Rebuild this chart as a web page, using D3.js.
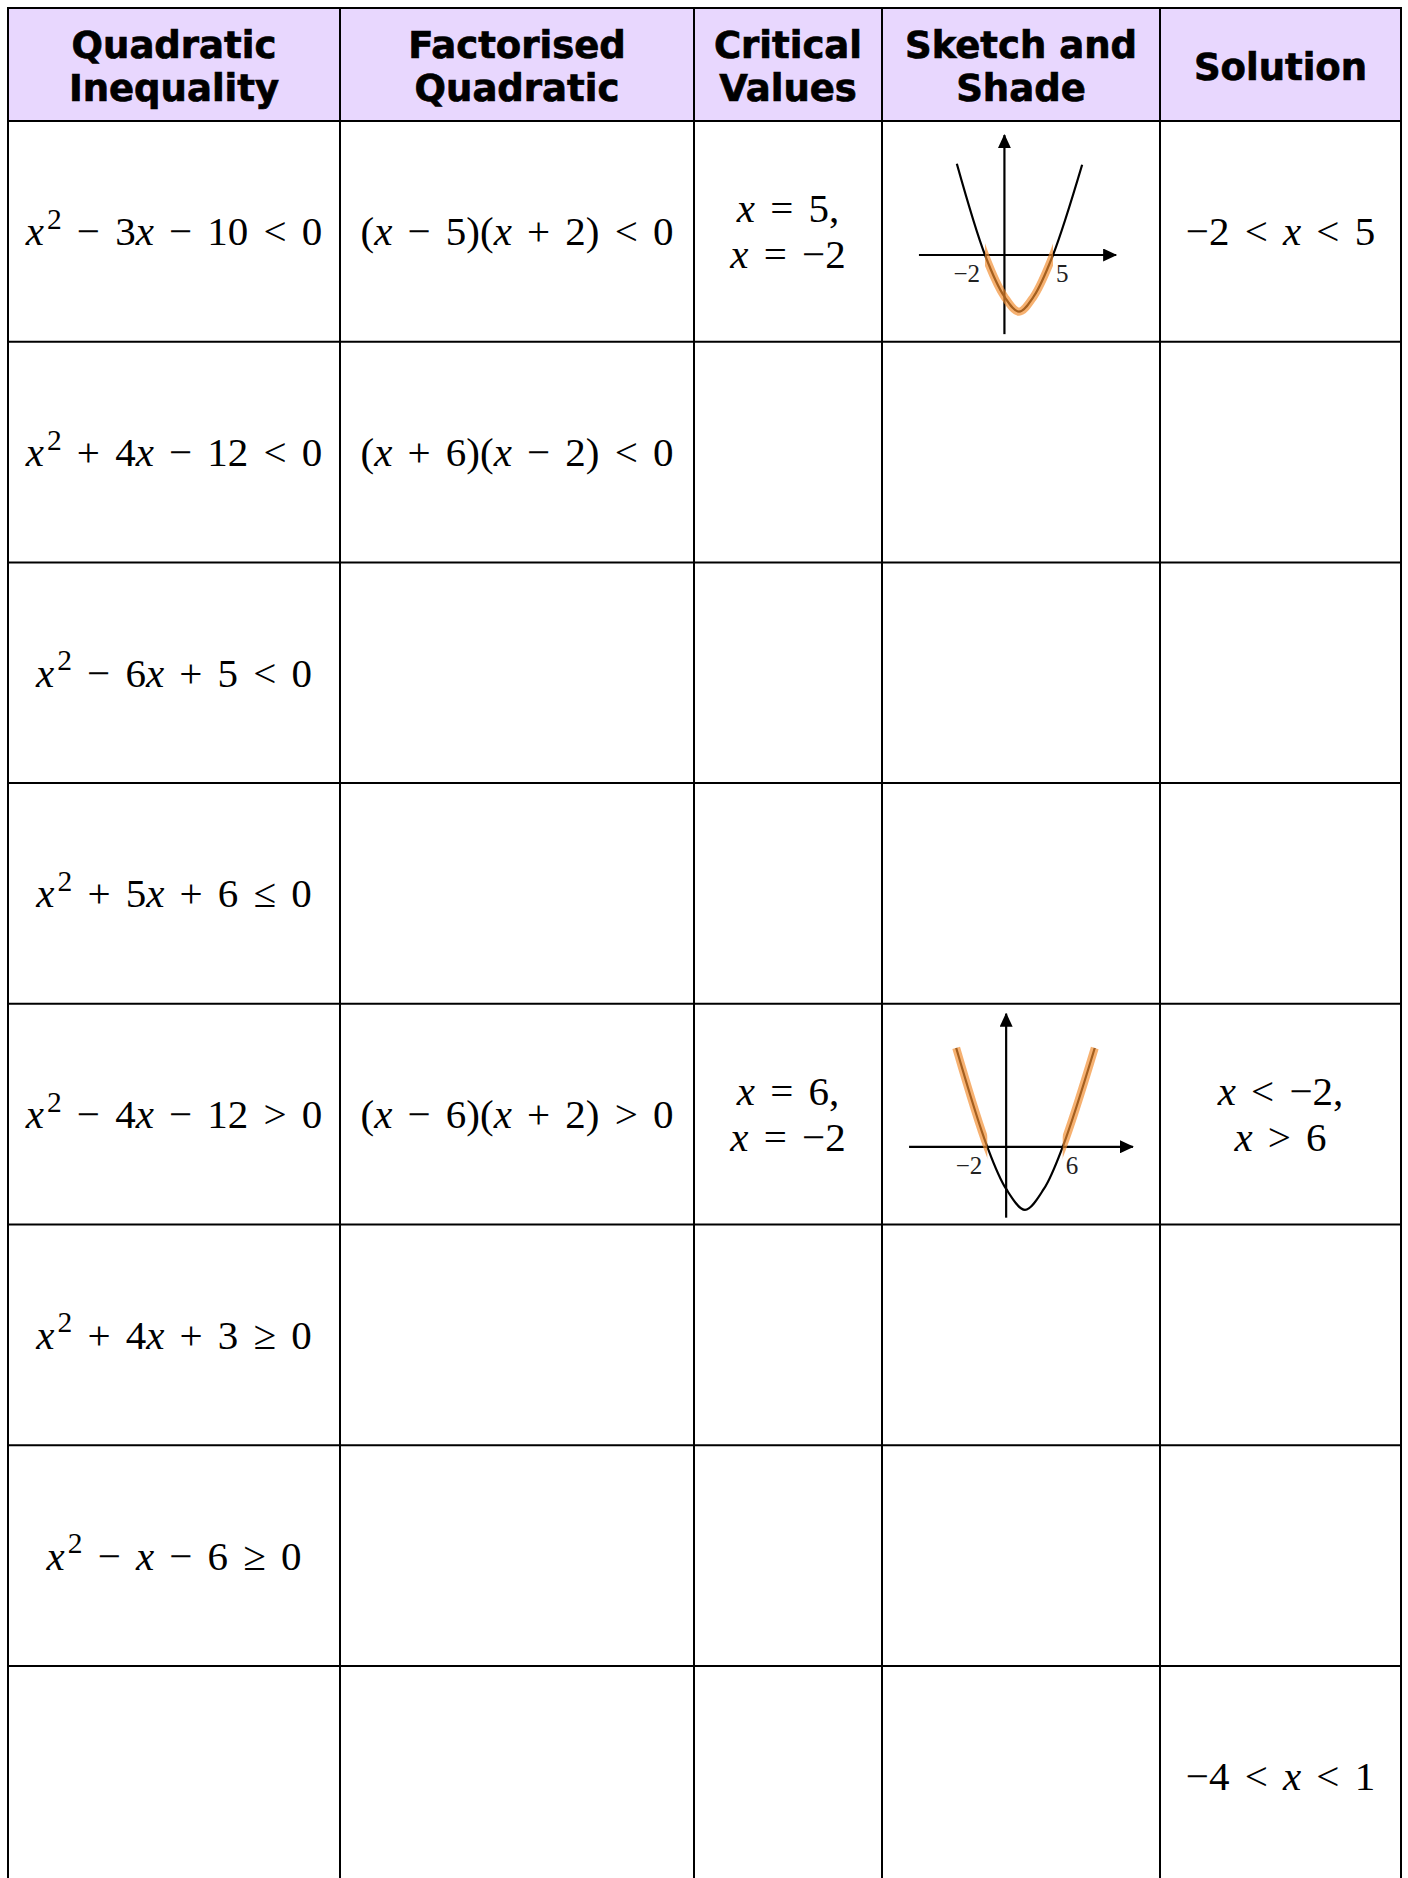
<!DOCTYPE html>
<html>
<head>
<meta charset="utf-8">
<script src="https://cdn.jsdelivr.net/npm/d3@7"></script>
<style>
  body { margin: 0; background: #fff; }
</style>
</head>
<body>
<div id="chart"></div>
<script>
// table content
const headers = [["Quadratic", "Inequality"], ["Factorised", "Quadratic"], ["Critical", "Values"], ["Sketch and", "Shade"], ["Solution"]];
const inequalities = ["x^2 − 3x − 10 < 0", "x^2 + 4x − 12 < 0", "x^2 − 6x + 5 < 0", "x^2 + 5x + 6 ≤ 0", "x^2 − 4x − 12 > 0", "x^2 + 4x + 3 ≥ 0", "x^2 − x − 6 ≥ 0", ""];
const factorised = ["(x − 5)(x + 2) < 0", "(x + 6)(x − 2) < 0", "", "", "(x − 6)(x + 2) > 0", "", "", ""];
const criticalValues = [["x = 5,", "x = −2"], [], [], [], ["x = 6,", "x = −2"], [], [], []];
const solutions = [["−2 < x < 5"], [], [], [], ["x < −2,", "x > 6"], [], [], ["−4 < x < 1"]];

// sketches (data units)
const sketchRows = [0, 4];
const sketchRoots = [[-2, 5], [-2, 6]];
const sketchVertexY = [-12.25, -16];
const sketchCurves = [
    [[-4.9, 19.7], [-2, 0], [0, -9], [1.5, -12.25], [3, -9], [5, 0], [8, 19.5]],
    [[-5.3, 25.1], [-2, 0], [0, -10.7], [2, -16], [4, -10.7], [6, 0], [9.4, 25.1]]
];
const sketchShade = [[[-2, 5]], [[-6, -2], [6, 10]]];
const sketchXAxis = [[-8.8, 11.5], [-10.3, 13.45]];
const sketchYAxis = [[-17.1, 25.9], [-18, 33.8]];
const sketchLabels = [["−2", "5"], ["−2", "6"]];

// layout
const width = 1408, height = 1878;
const colEdges = [8, 340, 694, 882, 1160, 1401];
const headerTop = 8, headerBottom = 121, rowHeight = 220.7, nRows = 8;
const sketchXRange = [[103, 171], [105.3, 180.7]];
const sketchYRange = [[134, 190.7], [143, 206]];

const mathFont = "'Liberation Serif', 'Times New Roman', serif";
const headFont = "Verdana, 'DejaVu Sans', sans-serif";
const fs = 41;
const gap = 0.37;

const rowScale = d3.scaleLinear().domain([0, nRows]).range([headerBottom, headerBottom + nRows * rowHeight]);
const colCenter = i => (colEdges[i] + colEdges[i + 1]) / 2;

const svg = d3.select("#chart").append("svg").attr("width", width).attr("height", height);

svg.append("rect")
    .attr("x", colEdges[0]).attr("y", headerTop)
    .attr("width", colEdges[5] - colEdges[0]).attr("height", headerBottom - headerTop)
    .attr("fill", "#e8d7fe");

// header text
headers.forEach((lines, i) => {
    const t = svg.append("text")
        .attr("text-anchor", "middle")
        .style("font-family", headFont)
        .style("font-weight", "bold")
        .style("font-size", "37px")
        .style("fill", "#000")
        .style("stroke", "#000")
        .style("stroke-width", 0.7);
    const base = lines.length == 1 ? [80] : [58, 101];
    lines.forEach((l, j) => t.append("tspan").attr("x", colCenter(i)).attr("y", base[j]).text(l));
});

function mathText(g, str, x, y) {
    const t = g.append("text")
        .attr("x", x).attr("y", y)
        .attr("text-anchor", "middle")
        .style("font-family", mathFont)
        .style("font-size", fs + "px")
        .style("fill", "#000");
    let raised = false;
    str.split(" ").forEach((tok, ti) => {
        const parts = tok.match(/\^\d|x|[^x^]+/g) || [];
        parts.forEach((p, pi) => {
            const s = t.append("tspan");
            if (pi == 0 && ti > 0) s.attr("dx", gap * fs);
            if (p[0] == "^") {
                s.text(p.slice(1)).style("font-size", fs * 0.72 + "px")
                    .attr("dx", 3).attr("dy", -0.4 * fs);
                raised = true;
            } else {
                if (raised) { s.attr("dy", 0.4 * fs); raised = false; }
                s.text(p);
                if (p == "x") s.style("font-style", "italic");
            }
        });
    });
}

function cellLines(col, row, lines) {
    const cy = (rowScale(row) + rowScale(row + 1)) / 2;
    const step = 46;
    lines.forEach((l, i) => {
        if (l) mathText(svg, l, colCenter(col), cy + 14 + (i - (lines.length - 1) / 2) * step);
    });
}

d3.range(nRows).forEach(r => {
    cellLines(0, r, [inequalities[r]]);
    cellLines(1, r, [factorised[r]]);
    cellLines(2, r, criticalValues[r]);
    cellLines(4, r, solutions[r]);
});

// arrowhead
svg.append("defs").append("marker")
    .attr("id", "arrow")
    .attr("markerUnits", "userSpaceOnUse")
    .attr("viewBox", "0 0 14 13")
    .attr("markerWidth", 14).attr("markerHeight", 13)
    .attr("refX", 13).attr("refY", 6.5)
    .attr("orient", "auto")
    .append("path").attr("d", "M0,0L14,6.5L0,13Z").attr("fill", "#000");

// sketches
sketchRows.forEach((row, k) => {
    const g = svg.append("g").attr("transform", `translate(${colEdges[3]},${rowScale(row)})`);
    const x = d3.scaleLinear().domain(sketchRoots[k]).range(sketchXRange[k]);
    const y = d3.scaleLinear().domain([0, sketchVertexY[k]]).range(sketchYRange[k]);

    g.append("line")
        .attr("x1", x(sketchXAxis[k][0])).attr("x2", x(sketchXAxis[k][1]))
        .attr("y1", y(0)).attr("y2", y(0))
        .attr("stroke", "#000").attr("stroke-width", 2.2)
        .attr("marker-end", "url(#arrow)");
    g.append("line")
        .attr("x1", x(0)).attr("x2", x(0))
        .attr("y1", y(sketchYAxis[k][0])).attr("y2", y(sketchYAxis[k][1]))
        .attr("stroke", "#000").attr("stroke-width", 2.2)
        .attr("marker-end", "url(#arrow)");

    const line = d3.line().x(d => x(d[0])).y(d => y(d[1])).curve(d3.curveCatmullRom.alpha(0.5));
    const pathD = line(sketchCurves[k]);

    g.append("path").attr("d", pathD)
        .attr("fill", "none").attr("stroke", "#000").attr("stroke-width", 2.2);

    const clipId = "shade" + k;
    const clip = g.append("clipPath").attr("id", clipId);
    sketchShade[k].forEach(s => {
        clip.append("rect")
            .attr("x", x(s[0])).attr("y", 0)
            .attr("width", x(s[1]) - x(s[0])).attr("height", rowHeight);
    });
    g.append("path").attr("d", pathD)
        .attr("clip-path", `url(#${clipId})`)
        .attr("fill", "none")
        .attr("stroke", "rgb(242,140,45)").attr("stroke-opacity", 0.68)
        .attr("stroke-width", 8);

    const labs = sketchLabels[k];
    g.append("text")
        .attr("x", x(sketchRoots[k][0]) - 5).attr("y", y(0) + 27)
        .attr("text-anchor", "end")
        .style("font-family", mathFont).style("font-size", "25px").style("fill", "#222")
        .text(labs[0]);
    g.append("text")
        .attr("x", x(sketchRoots[k][1]) + 3).attr("y", y(0) + 27)
        .attr("text-anchor", "start")
        .style("font-family", mathFont).style("font-size", "25px").style("fill", "#222")
        .text(labs[1]);
});

// grid
const grid = svg.append("g").attr("stroke", "#000").attr("stroke-width", 2);
colEdges.forEach(cx => {
    grid.append("line").attr("x1", cx).attr("x2", cx).attr("y1", headerTop - 1).attr("y2", height);
});
[headerTop].concat(d3.range(nRows + 1).map(rowScale)).forEach(ly => {
    grid.append("line").attr("x1", colEdges[0] - 1).attr("x2", colEdges[5] + 1).attr("y1", ly).attr("y2", ly);
});
</script>
</body>
</html>
